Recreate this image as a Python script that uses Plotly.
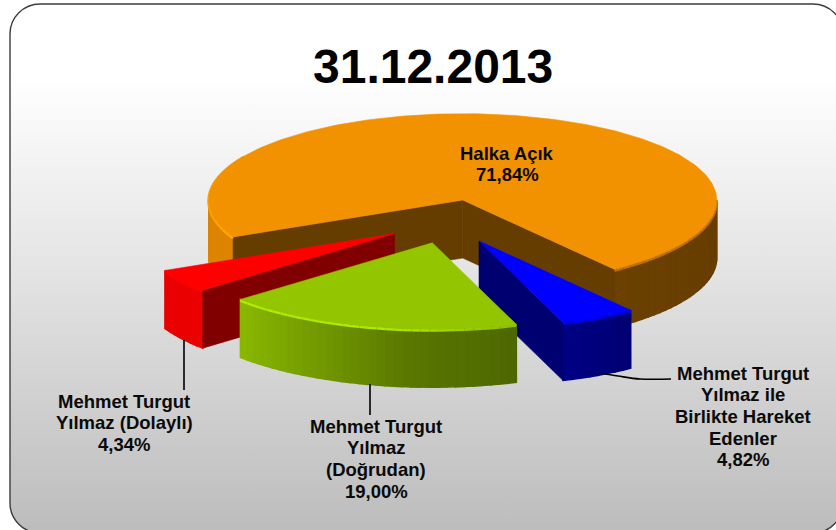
import base64
import numpy as np
import plotly.graph_objects as go

# ---- data -------------------------------------------------------------
title_text = "31.12.2013"
categories = ["Halka Açık", "Mehmet Turgut Yılmaz ile Birlikte Hareket Edenler",
              "Mehmet Turgut Yılmaz (Doğrudan)", "Mehmet Turgut Yılmaz (Dolaylı)"]
values = [71.84, 4.82, 19.00, 4.34]
value_labels = ["71,84%", "4,82%", "19,00%", "4,34%"]
colors = [(243, 146, 0), (0, 0, 255), (148, 198, 0), (255, 0, 0)]

label_lines = [
    ["Halka Açık", "71,84%"],
    ["Mehmet Turgut", "Yılmaz ile", "Birlikte Hareket", "Edenler", "4,82%"],
    ["Mehmet Turgut", "Yılmaz", "(Doğrudan)", "19,00%"],
    ["Mehmet Turgut", "Yılmaz (Dolaylı)", "4,34%"],
]
label_x = [507, 743, 376, 124]
label_first_y = [153, 373, 426, 401]

# ---- projection of the tilted, exploded pie ------------------------------
START = 244.7      # clockwise angle from 12 o'clock where the first slice begins
CX, CY = 449.0, 221.5
R, K, EXPLODE, H = 254.0, 0.34, 65.0, 58.0
NUDGE_X = [-2.0, -0.5, 0.0, 0.0]
W, HT = 836, 530

def rgb(c, f=1.0):
    return "rgb(%d,%d,%d)" % tuple(min(255, int(round(v * f))) for v in c)

def shade(a):
    a = (a - 90) % 360 + 90
    return float(np.interp(a, [90, 143, 160, 185, 205, 229, 245, 270],
                           [.42, .44, .52, .60, .76, .93, .91, .90]))

def rim(a):
    a = (a - 90) % 360 + 90
    return float(np.interp(a, [40, 90, 143, 165, 190, 229, 270, 300, 450],
                           [1.0, .78, .78, 1.0, 1.18, 1.2, 1.1, 1.0, 1.0]))

fig = go.Figure()

def poly(xs, ys, color, lw=0.6):
    fig.add_trace(go.Scatter(x=list(xs), y=list(ys), mode="lines", fill="toself",
                             fillcolor=color, line=dict(color=color, width=lw),
                             hoverinfo="skip", showlegend=False))

def arc(tip, a0, a1, n):
    t = np.radians(np.linspace(a0, a1, n))
    return tip[0] + R * np.sin(t), tip[1] - R * K * np.cos(t)

def side(tip, col, a0, a1):
    lo, hi = max(a0, 90), min(a1, 270)
    if hi <= lo:
        return
    n = max(2, int((hi - lo) / 2) + 1)
    ang = np.linspace(lo, hi, n)
    for p, q in zip(ang[:-1], ang[1:]):
        x, y = arc(tip, p, q, 4)
        poly(np.r_[x, x[::-1], x[0]], np.r_[y, y[::-1] + H, y[0]],
             rgb(col, shade((p + q) / 2)), lw=1.5)

def wall(tip, col, a, f):
    x, y = arc(tip, a, a, 1)
    poly([tip[0], x[0], x[0], tip[0], tip[0]],
         [tip[1], y[0], y[0] + H, tip[1] + H, tip[1]], rgb(col, f))

def top(tip, col, a0, a1):
    ang = np.arange(a0, a1, 2.0)
    for p in ang:
        f = rim(p + 1)
        if f == 1:
            continue
        x, y = arc(tip, p, min(p + 2, a1), 3)
        fig.add_trace(go.Scatter(x=x, y=y + 1, mode="lines", hoverinfo="skip", showlegend=False,
                                 line=dict(color=rgb(col, f), width=3)))
    n = int(a1 - a0) + 2
    x, y = arc(tip, a0, a1, n)
    poly(np.r_[tip[0], x, tip[0]], np.r_[tip[1], y, tip[1]], rgb(col))

# slice angles come from the values alone
total = sum(values)
spans = [v / total * 360 for v in values]
begin = START + np.r_[0, np.cumsum(spans)[:-1]]
end = begin + spans
mid = (begin + end) / 2
tips = [(CX + n + EXPLODE * np.sin(np.radians(m)), CY - EXPLODE * K * np.cos(np.radians(m)))
        for m, n in zip(mid, NUDGE_X)]

# orange (back), red, blue, green painted back to front
o, b, g, r = 0, 1, 2, 3
side(tips[o], colors[o], begin[o], 270)
side(tips[o], colors[o], 90, end[o] - 360)
wall(tips[o], colors[o], begin[o], .42)
wall(tips[o], colors[o], end[o] - 360, .42)
top(tips[o], colors[o], begin[o], end[o])

side(tips[r], colors[r], begin[r] - 360, end[r] - 360)
wall(tips[r], colors[r], begin[r] - 360, .5)
top(tips[r], colors[r], begin[r] - 360, end[r] - 360)

side(tips[b], colors[b], begin[b] - 360, end[b] - 360)
wall(tips[b], colors[b], end[b] - 360, .44)
top(tips[b], colors[b], begin[b] - 360, end[b] - 360)

side(tips[g], colors[g], begin[g] - 360, end[g] - 360)
top(tips[g], colors[g], begin[g] - 360, end[g] - 360)

# leader lines
for lx, ly in [([184, 184], [340, 390]), ([370, 370], [384, 415]),
               ([600, 618, 640, 671], [373, 376, 379, 379])]:
    fig.add_trace(go.Scatter(x=lx, y=ly, mode="lines", hoverinfo="skip", showlegend=False,
                             line=dict(color="black", width=1.6, shape="spline")))

# labels, one line at a time so the 22 px leading of the original holds
ann = [dict(x=433, y=66, xref="x", yref="y", text="<b>%s</b>" % title_text, showarrow=False,
            font=dict(family="Liberation Sans", size=48, color="black"),
            xanchor="center", yanchor="middle")]
for lines, lx, ly in zip(label_lines, label_x, label_first_y):
    for i, line in enumerate(lines):
        ann.append(dict(x=lx, y=ly + i * 21.7, xref="x", yref="y", text="<b>%s</b>" % line,
                        showarrow=False, xanchor="center", yanchor="middle",
                        font=dict(family="Liberation Sans", size=18.5, color="#0a0a0a")))

svg = f'''<svg xmlns="http://www.w3.org/2000/svg" width="{W}" height="{HT}" viewBox="0 0 {W} {HT}">
<defs><linearGradient id="g" gradientUnits="userSpaceOnUse" x1="0" y1="4" x2="0" y2="533">
<stop offset="0" stop-color="#ffffff"/><stop offset="0.135" stop-color="#ffffff"/>
<stop offset="0.5" stop-color="#e4e4e4"/><stop offset="1" stop-color="#bcbcbc"/></linearGradient></defs>
<rect x="10" y="4" width="833" height="529" rx="30" ry="30" fill="url(#g)" stroke="#3c3c3c" stroke-width="1.4"/>
</svg>'''
src = "data:image/svg+xml;base64," + base64.b64encode(svg.encode()).decode()

fig.update_layout(
    width=W, height=HT, margin=dict(l=0, r=0, t=0, b=0),
    paper_bgcolor="white", plot_bgcolor="rgba(0,0,0,0)", showlegend=False,
    xaxis=dict(range=[0, W], visible=False, fixedrange=True),
    yaxis=dict(range=[HT, 0], visible=False, fixedrange=True),
    annotations=ann,
    images=[dict(source=src, xref="paper", yref="paper", x=0, y=1, sizex=1, sizey=1,
                 xanchor="left", yanchor="top", sizing="stretch", layer="below")],
)
fig.write_html("out.html", config=dict(displayModeBar=False),
               post_script="document.body.style.margin='0';document.body.style.overflow='hidden';")
